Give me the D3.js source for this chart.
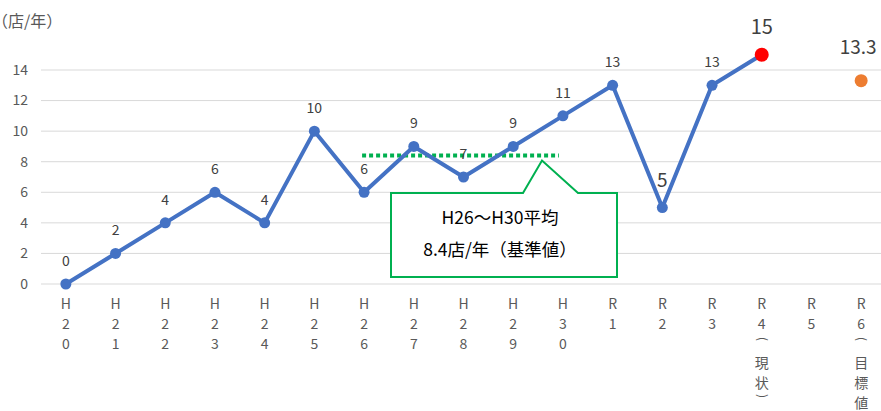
<!DOCTYPE html>
<html>
<head>
<meta charset="utf-8">
<script src="https://cdn.jsdelivr.net/npm/d3@7.9.0/dist/d3.min.js"></script>
<style>
  html, body { margin: 0; padding: 0; background: #fff; }
  svg { display: block; font-family: "Noto Sans CJK JP", "Noto Sans", sans-serif; }
</style>
</head>
<body>
<svg id="chart" width="881" height="411"></svg>
<script>
// 年度ごとの新規出店数
const categories = ['H20', 'H21', 'H22', 'H23', 'H24', 'H25', 'H26', 'H27', 'H28', 'H29', 'H30', 'R1', 'R2', 'R3', 'R4', 'R5', 'R6'];
const axisLabels = [
  ['H','2','0'], ['H','2','1'], ['H','2','2'], ['H','2','3'], ['H','2','4'], ['H','2','5'],
  ['H','2','6'], ['H','2','7'], ['H','2','8'], ['H','2','9'], ['H','3','0'],
  ['R','1'], ['R','2'], ['R','3'], ['R','4','（','現','状','）'], ['R','5'], ['R','6','（','目','標','値']
];
const actual = [0, 2, 4, 6, 4, 10, 6, 9, 7, 9, 11, 13, 5, 13, 15, null, null];
const target = [null, null, null, null, null, null, null, null, null, null, null, null, null, null, null, null, 13.3];
const baseline = { value: 8.4, from: 'H26', to: 'H30' };
const yTicks = [0, 2, 4, 6, 8, 10, 12, 14];
const yTitle = '（店/年）';
const calloutLines = ['H26～H30平均', '8.4店/年（基準値）'];

const svg = d3.select('#chart');
const plotLeft = 41, plotRight = 886, plotTop = 70, plotBottom = 284;

let x = d3.scaleBand().domain(categories).range([plotLeft, plotRight]);
let y = d3.scaleLinear().domain([0, 14]).range([plotBottom, plotTop]);
const cx = (c) => x(c) + x.bandwidth() / 2;

// grid
svg.append('g').selectAll('line').data(yTicks).join('line')
  .attr('x1', plotLeft).attr('x2', 881)
  .attr('y1', d => y(d)).attr('y2', d => y(d))
  .attr('stroke', '#d9d9d9').attr('stroke-width', 1);

svg.append('g').selectAll('text').data(yTicks).join('text')
  .attr('x', 28).attr('y', d => y(d)).attr('dy', '0.35em')
  .attr('text-anchor', 'end').attr('font-size', 14).attr('fill', '#595959')
  .text(d => d);

svg.append('text').attr('x', -8).attr('y', 27)
  .attr('font-size', 16).attr('fill', '#595959').text(yTitle);

// x labels, one char per row (parens turned for vertical writing)
const xg = svg.append('g').attr('font-size', 14).attr('fill', '#595959').attr('text-anchor', 'middle');
axisLabels.forEach((chars, i) => {
  const px = cx(categories[i]);
  let yy = 304;
  chars.forEach((ch, j) => {
    const prev = chars[j - 1];
    if (j > 0) {
      if (ch === '（') yy += 15;
      else if (prev === '（') yy += 24;
      else if (ch === '）') yy += 13;
      else yy += 20;
    }
    if (ch === '（' || ch === '）') {
      xg.append('text')
        .attr('x', px).attr('y', yy).attr('dy', '0.35em')
        .attr('font-size', 12)
        .attr('transform', `rotate(90,${px},${yy})`)
        .text(ch === '（' ? '(' : ')');
    } else {
      xg.append('text').attr('x', px).attr('y', yy).attr('dy', '0.36em').text(ch);
    }
  });
});

// baseline average
svg.append('line')
  .attr('x1', cx(baseline.from) - 2).attr('x2', cx(baseline.to) - 4)
  .attr('y1', y(baseline.value)).attr('y2', y(baseline.value))
  .attr('stroke', '#00b050').attr('stroke-width', 4)
  .attr('stroke-dasharray', '4 3');

// callout box
const bx0 = 391, bx1 = 617, by0 = 193, by1 = 277;
const tipX = 542, tipY = y(baseline.value) + 5;
svg.append('path')
  .attr('d', `M${bx0},${by0} L523,${by0} L${tipX},${tipY} L578,${by0} L${bx1},${by0} L${bx1},${by1} L${bx0},${by1} Z`)
  .attr('fill', '#fff').attr('stroke', '#00b050').attr('stroke-width', 2);
svg.append('g').selectAll('text').data(calloutLines).join('text')
  .attr('x', (bx0 + bx1) / 2 - 4).attr('y', (d, i) => 218 + i * 32).attr('dy', '0.35em')
  .attr('text-anchor', 'middle').attr('font-size', 17.5).attr('fill', '#000')
  .text(d => d);

// line
const pts = categories.map((c, i) => ({ c, v: actual[i] })).filter(d => d.v !== null);
const line = d3.line().x(d => cx(d.c)).y(d => y(d.v));
svg.append('path').datum(pts).attr('d', line)
  .attr('fill', 'none').attr('stroke', '#4472c4').attr('stroke-width', 4)
  .attr('stroke-linejoin', 'round');

const last = pts[pts.length - 1];
svg.append('g').selectAll('circle').data(pts).join('circle')
  .attr('cx', d => cx(d.c)).attr('cy', d => y(d.v))
  .attr('r', d => d === last ? 7 : 5.5)
  .attr('fill', d => d === last ? '#ff0000' : '#4472c4');

svg.append('g').selectAll('text').data(pts).join('text')
  .attr('x', d => cx(d.c))
  .attr('y', d => y(d.v) - (d === last ? 28 : d.c === 'R2' ? 27 : 23))
  .attr('dy', '0.35em').attr('text-anchor', 'middle')
  .attr('font-size', d => d === last ? 20 : d.c === 'R2' ? 19 : 14)
  .attr('fill', '#404040')
  .text(d => d.v);

// target
const tg = categories.map((c, i) => ({ c, v: target[i] })).filter(d => d.v !== null);
svg.append('g').selectAll('circle').data(tg).join('circle')
  .attr('cx', d => cx(d.c)).attr('cy', d => y(d.v)).attr('r', 6.5)
  .attr('fill', '#ed7d31');
svg.append('g').selectAll('text').data(tg).join('text')
  .attr('x', d => cx(d.c) - 3).attr('y', d => y(d.v) - 33).attr('dy', '0.35em')
  .attr('text-anchor', 'middle').attr('font-size', 19).attr('fill', '#404040')
  .text(d => d.v);
</script>
</body>
</html>
